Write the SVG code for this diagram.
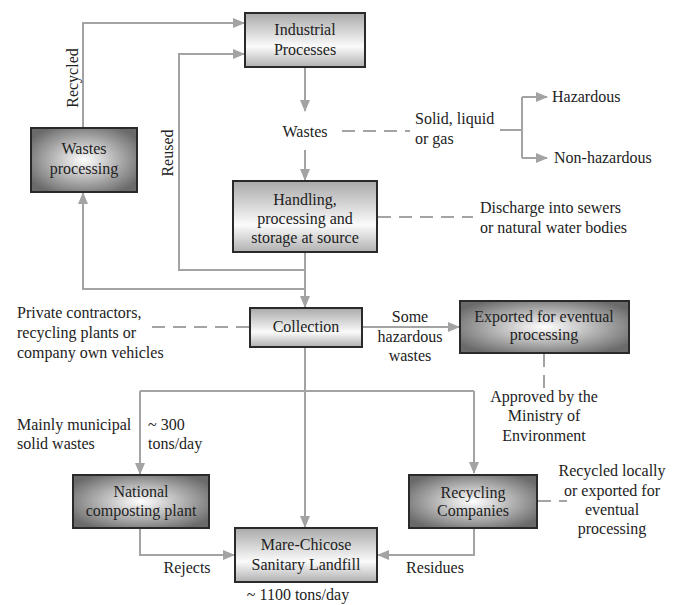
<svg xmlns="http://www.w3.org/2000/svg" width="678" height="605" viewBox="0 0 678 605">
<style>
.t{font-family:"Liberation Serif","Times New Roman",serif;font-size:16px;fill:#222}
.m{text-anchor:middle}
.c{fill:none;stroke:#a3a3a3;stroke-width:2}
.d{fill:none;stroke:#a3a3a3;stroke-width:2;stroke-dasharray:13 8}
.lb{fill:url(#lg);stroke:#2a2a2a;stroke-width:2}
.db{fill:url(#rg);stroke:#2a2a2a;stroke-width:2}
</style>
<defs>
<linearGradient id="lg" x1="0" y1="0" x2="0" y2="1">
<stop offset="0" stop-color="#a9a9a9"/>
<stop offset="0.62" stop-color="#fbfbfb"/>
<stop offset="1" stop-color="#b0b0b0"/>
</linearGradient>
<radialGradient id="rg" cx="0.5" cy="0.5" r="0.6">
<stop offset="0" stop-color="#ffffff"/>
<stop offset="1" stop-color="#6a6a6a"/>
</radialGradient>
<marker id="a" markerUnits="userSpaceOnUse" markerWidth="12" markerHeight="10" refX="11" refY="5" orient="auto">
<path d="M0,0 L12,5 L0,10 Z" fill="#a3a3a3"/>
</marker>
</defs>
<g id="connectors">
<path class="c" d="M83,128 V23 H244" marker-end="url(#a)"/>
<path class="c" d="M305,270 H179 V54 H244" marker-end="url(#a)"/>
<path class="c" d="M305,289 H83 V193" marker-end="url(#a)"/>
<path class="c" d="M305,67 V111" marker-end="url(#a)"/>
<path class="c" d="M305,150 V180" marker-end="url(#a)"/>
<path class="c" d="M305,252 V307" marker-end="url(#a)"/>
<path class="d" d="M342,131 H410"/>
<path class="c" d="M500,130 H522"/>
<path class="c" d="M522,97 V158"/>
<path class="c" d="M522,97 H547" marker-end="url(#a)"/>
<path class="c" d="M522,158 H547" marker-end="url(#a)"/>
<path class="d" d="M378,217 H473"/>
<path class="d" d="M152,327 H250"/>
<path class="c" d="M362,327 H459" marker-end="url(#a)"/>
<path class="d" d="M544,354 V390"/>
<path class="c" d="M305,347 V527" marker-end="url(#a)"/>
<path class="c" d="M140,391 H474"/>
<path class="c" d="M140,391 V474" marker-end="url(#a)"/>
<path class="c" d="M474,391 V473" marker-end="url(#a)"/>
<path class="c" d="M140,529 V555 H234" marker-end="url(#a)"/>
<path class="c" d="M474,529 V555 H378" marker-end="url(#a)"/>
<path class="d" d="M538,501 H567"/>
</g>
<g id="industrial">
<rect class="lb" x="245" y="13" width="120" height="54"/>
<text class="t m" x="305" y="35">Industrial</text>
<text class="t m" x="305" y="55">Processes</text>
</g>
<g id="wastes-processing">
<rect class="db" x="31" y="128" width="106" height="64"/>
<text class="t m" x="84" y="154">Wastes</text>
<text class="t m" x="84" y="174">processing</text>
</g>
<g id="wastes">
<text class="t m" x="305" y="137">Wastes</text>
</g>
<g id="handling">
<rect class="lb" x="233" y="181" width="144" height="71"/>
<text class="t m" x="305" y="205">Handling,</text>
<text class="t m" x="305" y="224">processing and</text>
<text class="t m" x="305" y="243">storage at source</text>
</g>
<g id="collection">
<rect class="lb" x="250" y="308" width="112" height="39"/>
<text class="t m" x="306" y="332">Collection</text>
</g>
<g id="exported">
<rect class="db" x="460" y="301" width="169" height="52"/>
<text class="t m" x="544" y="322">Exported for eventual</text>
<text class="t m" x="544" y="340">processing</text>
</g>
<g id="national">
<rect class="db" x="73" y="475" width="136" height="53"/>
<text class="t m" x="141" y="497">National</text>
<text class="t m" x="141" y="516">composting plant</text>
</g>
<g id="recycling">
<rect class="db" x="409" y="475" width="128" height="53"/>
<text class="t m" x="473" y="498">Recycling</text>
<text class="t m" x="473" y="516">Companies</text>
</g>
<g id="landfill">
<rect class="lb" x="235" y="528" width="142" height="54"/>
<text class="t m" x="306" y="550">Mare-Chicose</text>
<text class="t m" x="306" y="570">Sanitary Landfill</text>
</g>
<g id="labels">
<text class="t m" transform="translate(78,78) rotate(-90)">Recycled</text>
<text class="t m" transform="translate(173,153) rotate(-90)">Reused</text>
<text class="t" x="415" y="124">Solid, liquid</text>
<text class="t" x="415" y="144">or gas</text>
<text class="t" x="552" y="102">Hazardous</text>
<text class="t" x="554" y="163">Non-hazardous</text>
<text class="t" x="480" y="213">Discharge into sewers</text>
<text class="t" x="480" y="233">or natural water bodies</text>
<text class="t" x="17" y="318">Private contractors,</text>
<text class="t" x="17" y="338">recycling plants or</text>
<text class="t" x="17" y="358">company own vehicles</text>
<text class="t m" x="410" y="322">Some</text>
<text class="t m" x="410" y="342">hazardous</text>
<text class="t m" x="410" y="361">wastes</text>
<text class="t m" x="544" y="402">Approved by the</text>
<text class="t m" x="544" y="421">Ministry of</text>
<text class="t m" x="544" y="441">Environment</text>
<text class="t" x="17" y="430">Mainly municipal</text>
<text class="t" x="17" y="449">solid wastes</text>
<text class="t" x="148" y="430">~ 300</text>
<text class="t" x="148" y="449">tons/day</text>
<text class="t m" x="612" y="476">Recycled locally</text>
<text class="t m" x="612" y="496">or exported for</text>
<text class="t m" x="612" y="515">eventual</text>
<text class="t m" x="612" y="534">processing</text>
<text class="t m" x="187" y="573">Rejects</text>
<text class="t m" x="435" y="573">Residues</text>
<text class="t m" x="298" y="600">~ 1100 tons/day</text>
</g>
</svg>
